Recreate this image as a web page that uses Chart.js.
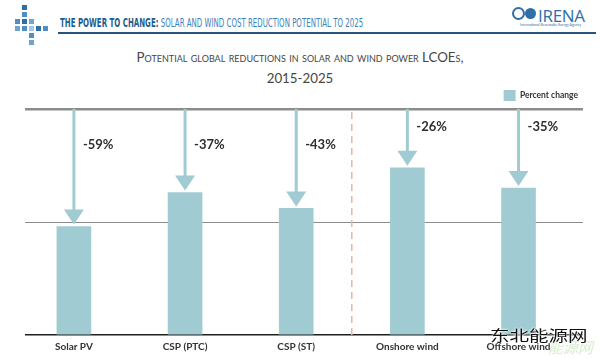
<!DOCTYPE html>
<html lang="en">
<head>
<meta charset="UTF-8">
<title>Solar and wind cost reduction potential to 2025</title>
<style>
    body {
        margin: 0;
        width: 600px;
        height: 359px;
        background: #fff;
        position: relative;
        overflow: hidden;
        font-family: Lato, "Open Sans", sans-serif;
    }
    .sq {
        position: absolute;
        width: 5px;
        height: 5px;
    }
    #headline {
        position: absolute;
        left: 60px;
        top: 16px;
        font-family: "Liberation Sans Narrow", "DejaVu Sans Condensed", sans-serif;
        font-size: 11.5px;
        white-space: nowrap;
        color: #3f82b8;
        transform: scaleX(0.68);
        transform-origin: left top;
    }
    #headline b {
        color: #1f5c8e;
    }
    #rule {
        position: absolute;
        left: 58px;
        top: 32px;
        width: 538px;
        height: 1.5px;
        background: #24557f;
    }
    #irena {
        position: absolute;
        left: 538px;
        top: 4px;
        font-family: "Open Sans", sans-serif;
        font-size: 17px;
        color: #2f6fa7;
        letter-spacing: -0.3px;
    }
    #irena-sub {
        position: absolute;
        left: 520px;
        top: 23px;
        font-size: 3.5px;
        color: #2f6fa7;
        white-space: nowrap;
    }
    #logo {
        position: absolute;
        left: 512px;
        top: 7px;
        width: 26px;
        height: 13px;
    }
    #title {
        position: absolute;
        left: 0;
        width: 600px;
        top: 47px;
        text-align: center;
        font-family: Lato, sans-serif;
        font-variant: small-caps;
        font-size: 13.3px;
        line-height: 21px;
        color: #454545;
    }
    #chartBox {
        position: absolute;
        left: 0;
        top: 80px;
        width: 600px;
        height: 279px;
    }
    #wm {
        position: absolute;
        left: 490px;
        top: 327px;
        font-family: "Noto Sans CJK SC", sans-serif;
        font-size: 15px;
        line-height: 15px;
        color: #111;
        text-shadow: 0 0 1px #fff, 0 0 2px #fff, 0 0 2px #fff;
        white-space: nowrap;
        transform: scaleX(1.3);
        transform-origin: left top;
    }
    #wm2 {
        position: absolute;
        left: 548px;
        top: 339px;
        font-family: "Noto Sans CJK SC", sans-serif;
        font-size: 15px;
        line-height: 15px;
        font-style: italic;
        color: rgba(140, 200, 120, 0.35);
    }
</style>
</head>
<body>

<!-- header decoration -->
<div class="sq" style="left:22px;top:5px;background:#2f6fa3"></div>
<div class="sq" style="left:22px;top:12px;background:#4f8fc4"></div>
<div class="sq" style="left:15px;top:19px;background:#4f8fc4"></div>
<div class="sq" style="left:22px;top:19px;background:#2f6fa3"></div>
<div class="sq" style="left:29px;top:19px;background:#6ea4d0"></div>
<div class="sq" style="left:15px;top:26px;background:#6ea4d0"></div>
<div class="sq" style="left:22px;top:26px;background:#4f8fc4"></div>
<div class="sq" style="left:29px;top:26px;background:#a6c8e4"></div>
<div class="sq" style="left:36px;top:26px;background:#2f6fa3"></div>
<div class="sq" style="left:43px;top:26px;background:#4f8fc4"></div>
<div class="sq" style="left:29px;top:33px;background:#4f8fc4"></div>
<div class="sq" style="left:29px;top:40px;background:#6ea4d0"></div>

<div id="headline"><b>THE POWER TO CHANGE:</b> SOLAR AND WIND COST REDUCTION POTENTIAL TO 2025</div>
<div id="rule"></div>
<svg id="logo" viewBox="0 0 26 13">
    <circle cx="6.5" cy="6.5" r="5.5" fill="none" stroke="#2f6fa7" stroke-width="2"/>
    <circle cx="18.5" cy="6.5" r="5.5" fill="#2f6fa7"/>
</svg>
<div id="irena">IRENA</div>
<div id="irena-sub">International Renewable Energy Agency</div>

<div id="title">Potential global reductions in solar and wind power LCOEs,<br>2015-2025</div>

<div id="chartBox"><canvas id="lcoeChart"></canvas></div>

<div id="wm2">能源网</div>
<div id="wm">东北能源网</div>

<script src="https://cdn.jsdelivr.net/npm/chart.js"></script>
<script>
    // technologies
    const technologies = ['Solar PV', 'CSP (PTC)', 'CSP (ST)', 'Onshore wind', 'Offshore wind'];
    // 2025 LCOE as % of the 2015 level
    const lcoe2025 = [48, 63, 56, 74, 65];
    // percent change labels
    const percentChange = [-59, -37, -43, -26, -35];
    const gridLevels = [0, 50, 100];

    const barColor = '#a0cbd2';

    // arrows from the 2015 line down to each bar, plus the solar/wind divider
    const arrowPlugin = {
        id: 'arrows',
        afterDatasetsDraw(chart) {
            const ctx = chart.ctx;
            const xs = chart.scales.x;
            const ys = chart.scales.y;
            const top = ys.getPixelForValue(100);

            ctx.save();
            // dashed divider between solar and wind
            const dx = xs.getPixelForValue(2.5);
            ctx.strokeStyle = '#e2b7a4';
            ctx.lineWidth = 1.5;
            ctx.setLineDash([7, 5]);
            ctx.beginPath();
            ctx.moveTo(dx, top + 3);
            ctx.lineTo(dx, ys.getPixelForValue(0));
            ctx.stroke();
            ctx.setLineDash([]);

            lcoe2025.forEach((v, i) => {
                const x = xs.getPixelForValue(i);
                const tip = ys.getPixelForValue(v) - 2;
                const headH = 15, headW = 10;
                ctx.fillStyle = barColor;
                ctx.fillRect(x - 1.5, top, 3, tip - headH - top + 1);
                ctx.beginPath();
                ctx.moveTo(x - headW, tip - headH);
                ctx.lineTo(x + headW, tip - headH);
                ctx.lineTo(x, tip);
                ctx.closePath();
                ctx.fill();

                ctx.fillStyle = '#2e2e2e';
                ctx.font = 'bold 13px Lato, sans-serif';
                ctx.textBaseline = 'middle';
                ctx.textAlign = 'left';
                const ly = ys.getPixelForValue(i < 3 ? 84 : 92);
                ctx.fillText(percentChange[i] + '%', x + 9, ly);
            });
            ctx.restore();
        }
    };

    new Chart(document.getElementById('lcoeChart'), {
        type: 'bar',
        data: {
            datasets: [{
                label: 'Percent change',
                data: lcoe2025.map((v, i) => ({ x: i, y: v })),
                backgroundColor: barColor,
                borderWidth: 0,
                barThickness: 34
            }]
        },
        options: {
            responsive: true,
            maintainAspectRatio: false,
            animation: false,
            layout: { padding: { left: 25, right: 17, top: 5, bottom: 0 } },
            plugins: {
                legend: {
                    position: 'top',
                    align: 'end',
                    maxHeight: 24,
                    labels: {
                        boxWidth: 12,
                        boxHeight: 11,
                        padding: 5,
                        color: '#333',
                        font: { family: 'Lato, sans-serif', size: 8.5, weight: 'bold' }
                    }
                },
                tooltip: { enabled: false }
            },
            scales: {
                x: {
                    type: 'linear',
                    offset: false,
                    min: -0.44,
                    max: 4.58,
                    grid: { display: false, drawTicks: false, offset: false },
                    border: { display: false },
                    afterBuildTicks: (scale) => {
                        scale.ticks = technologies.map((_, i) => ({ value: i }));
                    },
                    ticks: {
                        padding: 6,
                        color: '#333',
                        font: { family: 'Lato, sans-serif', size: 10, weight: 'bold' },
                        callback: (v) => technologies[v]
                    }
                },
                y: {
                    min: 0,
                    max: 100,
                    afterBuildTicks: (scale) => {
                        scale.ticks = gridLevels.map(v => ({ value: v }));
                    },
                    ticks: { display: false },
                    border: { display: false },
                    grid: {
                        drawTicks: false,
                        color: (c) => c.tick.value === 0 ? '#1e1e1e' : '#8c8c8c',
                        lineWidth: (c) => c.tick.value === 100 ? 2.5 : (c.tick.value === 0 ? 1.5 : 1)
                    }
                }
            }
        },
        plugins: [arrowPlugin]
    });
</script>
</body>
</html>
